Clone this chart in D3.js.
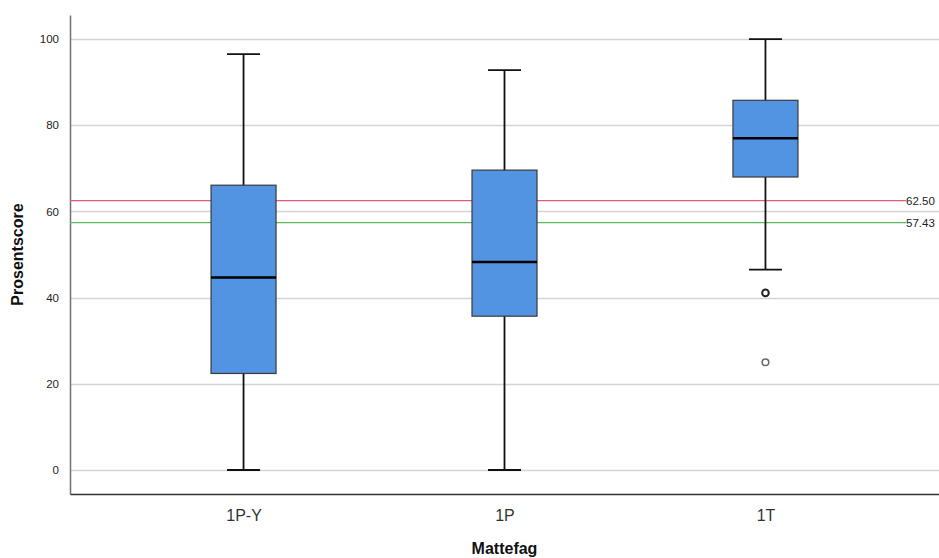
<!DOCTYPE html>
<html>
<head>
<meta charset="utf-8">
<script src="https://cdn.jsdelivr.net/npm/d3@7"></script>
<style>
  body { margin: 0; background: #fff; }
  text { font-family: Arial, "Liberation Sans", sans-serif; }
</style>
</head>
<body>
<div id="chart"></div>
<script>
// data
var categories = ["1P-Y", "1P", "1T"];
var whiskLow  = [0, 0, 46.5];
var q1        = [22.4, 35.7, 68.0];
var median    = [44.7, 48.3, 77.0];
var q3        = [66.1, 69.6, 85.8];
var whiskHigh = [96.5, 92.8, 100];
var outliers  = [[], [], [41.1, 25.0]];
var refValues = [62.50, 57.43];
var refColors = ["#e8587a", "#5cb85c"];
var yTicks = [0, 20, 40, 60, 80, 100];

var width = 939, height = 558;
var margin = {top: 15, right: 0, bottom: 64, left: 70};

var svg = d3.select("#chart").append("svg")
    .attr("width", width)
    .attr("height", height);

var x = d3.scalePoint()
    .domain(categories)
    .range([margin.left, width - margin.right])
    .padding(0.665);

var y = d3.scaleLinear()
    .domain([-5.57, 105.6])
    .range([height - margin.bottom, margin.top]);

// gridlines
svg.append("g")
   .selectAll("line")
   .data(yTicks)
   .enter().append("line")
   .attr("x1", margin.left)
   .attr("x2", width)
   .attr("y1", function(d){ return Math.round(y(d)) + 0.5; })
   .attr("y2", function(d){ return Math.round(y(d)) + 0.5; })
   .attr("stroke", "#d4d4d4")
   .attr("stroke-width", 1.5);

// y axis
var yAxis = d3.axisLeft(y)
    .tickValues(yTicks)
    .tickSize(0)
    .tickPadding(11);

svg.append("g")
   .attr("transform", "translate(" + margin.left + ",0)")
   .call(yAxis)
   .call(function(g){
      g.select(".domain").attr("stroke", "#707070").attr("stroke-width", 1.5);
      g.selectAll(".tick text").style("font-size", "11.5px").attr("fill", "#222");
   });

// x axis
var xAxis = d3.axisBottom(x).tickSize(0).tickPadding(16);
svg.append("g")
   .attr("transform", "translate(0," + (height - margin.bottom) + ")")
   .call(xAxis)
   .call(function(g){
      g.select(".domain").attr("stroke", "#333").attr("stroke-width", 1.5);
      g.selectAll(".tick text").style("font-size", "16px").attr("fill", "#333");
   });

// reference lines
refValues.forEach(function(v, i){
   svg.append("line")
      .attr("x1", margin.left)
      .attr("x2", 906)
      .attr("y1", y(v))
      .attr("y2", y(v))
      .attr("stroke", refColors[i])
      .attr("stroke-width", 1.3);
   svg.append("text")
      .attr("x", 906)
      .attr("y", y(v))
      .attr("dy", "0.35em")
      .style("font-size", "11.5px")
      .attr("fill", "#222")
      .text(v.toFixed(2));
});

var boxW = 65, capW = 33;

var boxes = svg.append("g")
   .selectAll("g")
   .data(categories)
   .enter().append("g");

// whiskers
boxes.append("line")
   .attr("x1", function(d){ return x(d); })
   .attr("x2", function(d){ return x(d); })
   .attr("y1", function(d, i){ return y(whiskLow[i]); })
   .attr("y2", function(d, i){ return y(whiskHigh[i]); })
   .attr("stroke", "#111")
   .attr("stroke-width", 1.8);

boxes.selectAll(".cap")
   .data(function(d, i){ return [{c: d, v: whiskLow[i]}, {c: d, v: whiskHigh[i]}]; })
   .enter().append("line")
   .attr("class", "cap")
   .attr("x1", function(d){ return x(d.c) - capW / 2; })
   .attr("x2", function(d){ return x(d.c) + capW / 2; })
   .attr("y1", function(d){ return y(d.v); })
   .attr("y2", function(d){ return y(d.v); })
   .attr("stroke", "#111")
   .attr("stroke-width", 1.8);

boxes.append("rect")
   .attr("x", function(d){ return x(d) - boxW / 2; })
   .attr("y", function(d, i){ return y(q3[i]); })
   .attr("width", boxW)
   .attr("height", function(d, i){ return y(q1[i]) - y(q3[i]); })
   .attr("fill", "#5294e2")
   .attr("stroke", "#3a3a3a")
   .attr("stroke-width", 1.2);

boxes.append("line")
   .attr("x1", function(d){ return x(d) - boxW / 2; })
   .attr("x2", function(d){ return x(d) + boxW / 2; })
   .attr("y1", function(d, i){ return y(median[i]); })
   .attr("y2", function(d, i){ return y(median[i]); })
   .attr("stroke", "#000")
   .attr("stroke-width", 2.5);

// outliers
boxes.selectAll(".out")
   .data(function(d, i){ return outliers[i].map(function(v){ return {c: d, v: v}; }); })
   .enter().append("circle")
   .attr("class", "out")
   .attr("cx", function(d){ return x(d.c); })
   .attr("cy", function(d){ return y(d.v); })
   .attr("r", 3.3)
   .attr("fill", "#fff")
   .attr("stroke", function(d, i){ return i == 0 ? "#222" : "#666"; })
   .attr("stroke-width", function(d, i){ return i == 0 ? 2 : 1.5; });

// axis titles
svg.append("text")
   .attr("transform", "translate(23," + ((margin.top + height - margin.bottom) / 2) + ") rotate(-90)")
   .attr("text-anchor", "middle")
   .style("font-size", "16px")
   .style("font-weight", "bold")
   .attr("fill", "#111")
   .text("Prosentscore");

svg.append("text")
   .attr("x", x("1P"))
   .attr("y", 554)
   .attr("text-anchor", "middle")
   .style("font-size", "16px")
   .style("font-weight", "bold")
   .attr("fill", "#111")
   .text("Mattefag");
</script>
</body>
</html>
